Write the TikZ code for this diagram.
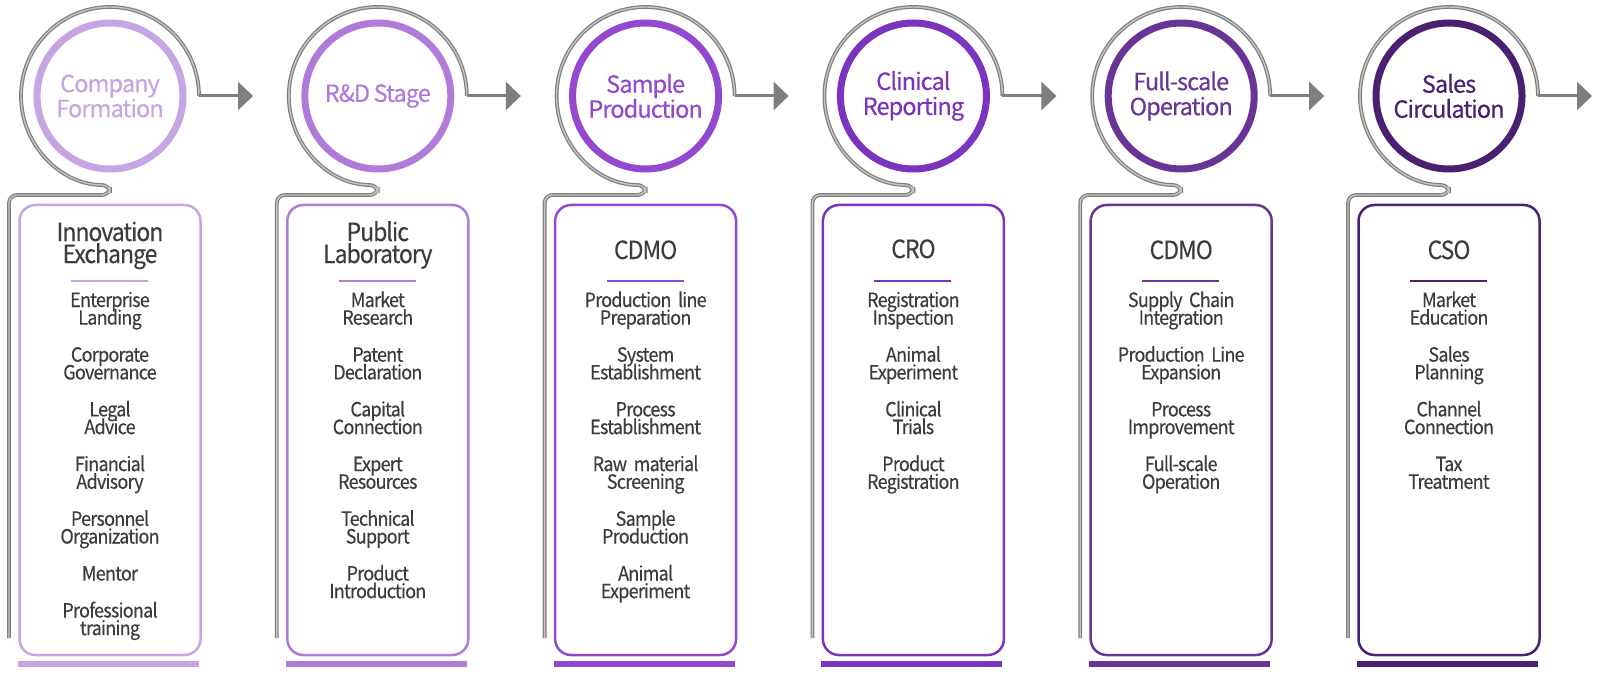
\documentclass[tikz,border=0pt]{standalone}
\usepackage{fontspec}
\setmainfont{Noto Sans CJK KR}[FakeStretch=0.92, LetterSpace=-4, WordSpace=0.5, FakeBold=0.25]
\newfontfamily\headfont{Noto Sans CJK KR}[LetterSpace=-4, WordSpace=0.8, FakeBold=0.25]
\usetikzlibrary{arrows.meta, positioning}
\definecolor{tone1}{HTML}{C7A4E2}
\definecolor{tone2}{HTML}{B07BD8}
\definecolor{tone3}{HTML}{9448CF}
\definecolor{tone4}{HTML}{7B34BD}
\definecolor{tone5}{HTML}{683596}
\definecolor{tone6}{HTML}{4A2070}
\definecolor{ink}{HTML}{3C3C3C}
\definecolor{wire}{HTML}{7E7E7E}
\definecolor{wirefill}{HTML}{C4C4C4}

\begin{document}
\begin{tikzpicture}[x=0.5pt, y=0.5pt,
    headcircle/.style={circle, line width=3.5pt, minimum size=73pt, inner sep=0pt, align=center, font={\headfont\fontsize{11.8}{12.5}\selectfont\lineskiplimit=-20pt}},
    stagebox/.style={rectangle, rounded corners=8pt, line width=1.25pt, minimum width=90.5pt, minimum height=225pt},
    boxtitle/.style={anchor=base, text width=88pt, align=center, inner sep=0pt, text=ink, font={\fontsize{12.5}{11}\selectfont\lineskiplimit=-20pt}},
    itemlist/.style={anchor=base, text width=88pt, align=center, inner sep=0pt, text=ink, font={\fontsize{9.8}{8.85}\selectfont\lineskiplimit=-20pt}},
    ring/.style={draw=wire, line width=0.6pt, double=wirefill, double distance=0.7pt, rounded corners=4pt},
    flow/.style={draw=wire, line width=1.5pt, -{Triangle[length=7.5pt, width=14pt]}},
    sepline/.style={line width=1pt},
    footbar/.style={line width=3pt}]

    \fill[white] (0,0) rectangle (1600,676);
    \useasboundingbox (0,0) rectangle (1600,676);

    \foreach \i/\head/\title/\ty/\items in {
        1/{Company\\Formation}/{Innovation\\Exchange}/435/{Enterprise\\Landing\\[9.65pt]Corporate\\Governance\\[9.65pt]Legal\\Advice\\[9.65pt]Financial\\Advisory\\[9.65pt]Personnel\\Organization\\[9.65pt]Mentor\\[9.65pt]Professional\\training},
        2/{R\&D Stage}/{Public\\Laboratory}/435/{Market\\Research\\[9.65pt]Patent\\Declaration\\[9.65pt]Capital\\Connection\\[9.65pt]Expert\\Resources\\[9.65pt]Technical\\Support\\[9.65pt]Product\\Introduction},
        3/{Sample\\Production}/{CDMO}/417/{Production line\\Preparation\\[9.65pt]System\\Establishment\\[9.65pt]Process\\Establishment\\[9.65pt]Raw material\\Screening\\[9.65pt]Sample\\Production\\[9.65pt]Animal\\Experiment},
        4/{Clinical\\Reporting}/{CRO}/418/{Registration\\Inspection\\[9.65pt]Animal\\Experiment\\[9.65pt]Clinical\\Trials\\[9.65pt]Product\\Registration},
        5/{Full-scale\\Operation}/{CDMO}/417/{Supply Chain\\Integration\\[9.65pt]Production Line\\Expansion\\[9.65pt]Process\\Improvement\\[9.65pt]Full-scale\\Operation},
        6/{Sales\\Circulation}/{CSO}/417/{Market\\Education\\[9.65pt]Sales\\Planning\\[9.65pt]Channel\\Connection\\[9.65pt]Tax\\Treatment}}
    {
        \pgfmathsetmacro\cx{110+267.8*(\i-1)}
        % ring round the stage circle, then down beside the box
        \draw[ring] (\cx+89,580) arc[start angle=0, end angle=270, radius=89] -- (\cx,481) -- (\cx-101,481) -- (\cx-101,38);
        \coordinate (ringE\i) at (\cx+89,580);
        \coordinate (tip\i) at (\cx+143,580);
        \draw[flow] (ringE\i) -- (tip\i);

        \node[headcircle, draw=tone\i, text=tone\i] (head\i) at (\cx,580) {\head};
        \node[stagebox, draw=tone\i] (box\i) at (\cx,246) {};
        \node[boxtitle] (title\i) at (\cx,\ty) {\title};
        \draw[sepline, tone\i] (\cx-39,395) -- (\cx+38,395);
        \node[itemlist] (items\i) at (\cx,369) {\items};
        \draw[footbar, tone\i] (\cx-92,12) -- (\cx+89,12);
    }
\end{tikzpicture}
\end{document}
